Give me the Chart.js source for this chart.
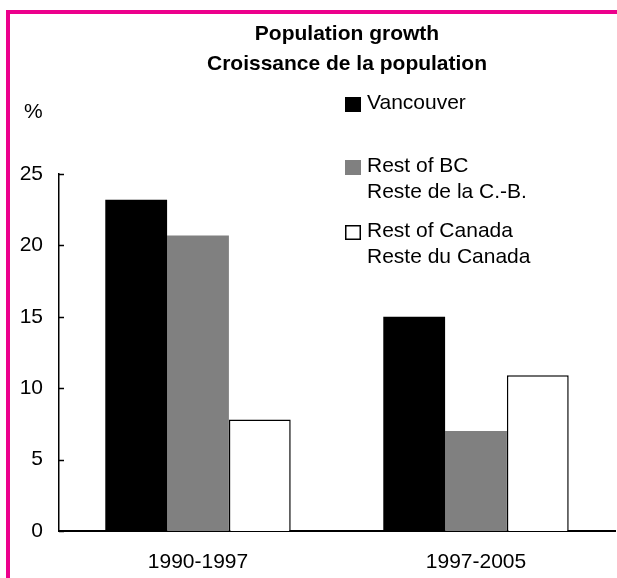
<!DOCTYPE html>
<html>
<head>
<meta charset="utf-8">
<script src="https://cdn.jsdelivr.net/npm/chart.js@4/dist/chart.umd.min.js"></script>
<style>
  html, body { margin: 0; padding: 0; background: #ffffff; }
  #wrap { width: 617px; height: 578px; position: relative; }
</style>
</head>
<body>
<div id="wrap"><canvas id="c" width="617" height="578"></canvas></div>
<script>
// ---- Data ----
const categories = ['1990-1997', '1997-2005'];
const vancouver = [23.2, 15.0];
const restOfBC = [20.7, 7.0];
const restOfCanada = [7.8, 10.9];
const yTickValues = [0, 5, 10, 15, 20, 25];
const titleLines = ['Population growth', 'Croissance de la population'];
const legendItems = [
  { lines: ['Vancouver'], fill: '#000000', stroke: null },
  { lines: ['Rest of BC', 'Reste de la C.-B.'], fill: '#808080', stroke: null },
  { lines: ['Rest of Canada', 'Reste du Canada'], fill: '#ffffff', stroke: '#000000' }
];
const unitLabel = '%';

const FONT = '"Liberation Sans", Arial, Helvetica, sans-serif';

const decor = {
  id: 'decor',
  beforeDraw(chart) {
    const ctx = chart.ctx;
    ctx.save();
    ctx.fillStyle = '#ffffff';
    ctx.fillRect(0, 0, chart.width, chart.height);
    ctx.restore();
  },
  afterDraw(chart) {
    const ctx = chart.ctx;
    const y = chart.scales.y;
    ctx.save();
    // inward y ticks
    ctx.strokeStyle = '#000';
    ctx.lineWidth = 1.5;
    yTickValues.forEach(v => {
      const py = Math.round(y.getPixelForValue(v)) + 0.5;
      ctx.beginPath();
      ctx.moveTo(y.right, py);
      ctx.lineTo(y.right + 5, py);
      ctx.stroke();
    });
    // pink frame
    ctx.fillStyle = '#EC008C';
    ctx.fillRect(6, 10, 617 - 6, 4);
    ctx.fillRect(6, 10, 4, 578 - 10);
    // title
    ctx.fillStyle = '#000';
    ctx.textAlign = 'center';
    ctx.textBaseline = 'alphabetic';
    ctx.font = 'bold 21px ' + FONT;
    ctx.fillText(titleLines[0], 347, 40);
    ctx.fillText(titleLines[1], 347, 70);
    // unit label
    ctx.textAlign = 'left';
    ctx.font = '21px ' + FONT;
    ctx.fillText(unitLabel, 24, 118);
    // legend
    const baselines = [[109], [172, 198], [237, 263]];
    legendItems.forEach((it, i) => {
      const b0 = baselines[i][0];
      ctx.fillStyle = it.fill;
      ctx.fillRect(345, b0 - 12, 16, 15);
      if (it.stroke) {
        ctx.strokeStyle = it.stroke;
        ctx.lineWidth = 1.5;
        ctx.strokeRect(345.75, b0 - 11.25, 14.5, 13.5);
      }
      ctx.fillStyle = '#000';
      it.lines.forEach((t, j) => ctx.fillText(t, 367, baselines[i][j]));
    });
    ctx.restore();
  }
};

new Chart(document.getElementById('c'), {
  type: 'bar',
  data: {
    labels: categories,
    datasets: [
      { label: 'Vancouver', data: vancouver, backgroundColor: '#000000', borderWidth: 0 },
      { label: 'Rest of BC', data: restOfBC, backgroundColor: '#808080', borderWidth: 0 },
      { label: 'Rest of Canada', data: restOfCanada, backgroundColor: '#ffffff', borderColor: '#000000', borderWidth: 1.5 }
    ]
  },
  plugins: [decor],
  options: {
    responsive: false,
    animation: false,
    devicePixelRatio: 1,
    layout: { padding: { top: 174, right: 2, bottom: 0, left: 0 } },
    plugins: { legend: { display: false }, title: { display: false }, tooltip: { enabled: false } },
    datasets: { bar: { barPercentage: 1.0, categoryPercentage: 0.667 } },
    scales: {
      x: {
        grid: { display: false },
        border: { display: true, color: '#000', width: 2 },
        ticks: { color: '#000', font: { family: FONT, size: 21 }, padding: 11, maxRotation: 0 },
        afterFit(scale) { scale.height = 47; }
      },
      y: {
        min: 0, max: 25,
        grid: { display: false },
        border: { display: true, color: '#000', width: 1.5 },
        afterBuildTicks(scale) { scale.ticks = yTickValues.map(v => ({ value: v })); },
        ticks: { color: '#000', font: { family: FONT, size: 21 }, padding: 8 },
        afterFit(scale) { scale.width = 59; }
      }
    }
  }
});
</script>
</body>
</html>
